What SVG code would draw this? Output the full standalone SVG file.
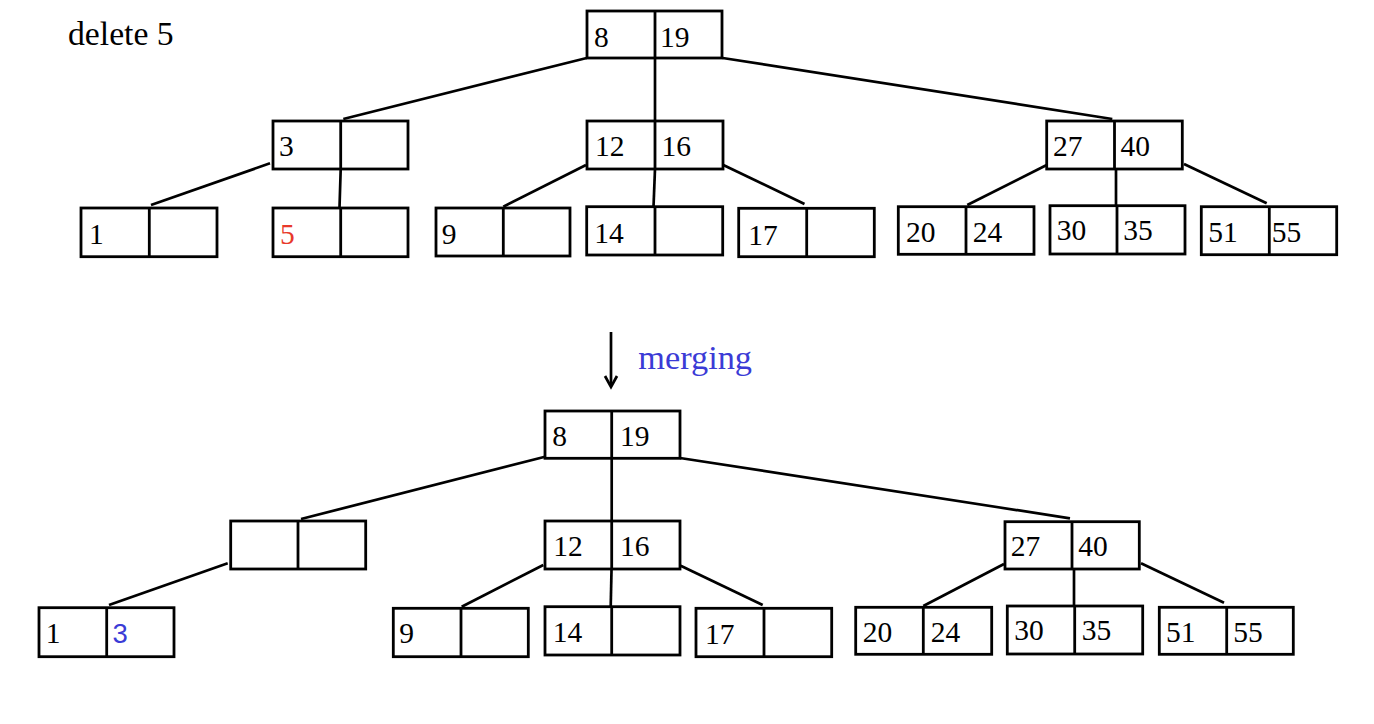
<svg xmlns="http://www.w3.org/2000/svg" width="1374" height="724" viewBox="0 0 1374 724">
<style>
.box{fill:#fff;stroke:#000;stroke-width:2.8}
.div{stroke:#000;stroke-width:2.8}
.edge{stroke:#000;stroke-width:2.7;fill:none}
text{font-family:"Liberation Serif","Times New Roman",serif;font-size:29.5px;fill:#000}
.big{font-size:33.7px}
.mg{font-size:34.3px}
.blue{fill:#3b3bd6}
.red{fill:#e8392b}
.sans{font-family:"Liberation Sans",Arial,sans-serif;font-size:27.5px}
</style>
<rect width="1374" height="724" fill="#fff"/>
<text class="big" x="68" y="45">delete 5</text>
<g id="connectors">
<line class="edge" x1="586.7" y1="58" x2="343.3" y2="119"/>
<line class="edge" x1="655" y1="58" x2="655" y2="121"/>
<line class="edge" x1="722.7" y1="58" x2="1112.3" y2="119"/>
<line class="edge" x1="270" y1="163.3" x2="151" y2="205"/>
<line class="edge" x1="340.7" y1="169" x2="339.5" y2="208"/>
<line class="edge" x1="586" y1="165" x2="503.3" y2="206.7"/>
<line class="edge" x1="655" y1="169" x2="653.5" y2="207"/>
<line class="edge" x1="723.3" y1="165" x2="804.5" y2="204"/>
<line class="edge" x1="1046.7" y1="165" x2="967.3" y2="205"/>
<line class="edge" x1="1116" y1="161" x2="1116" y2="205.7"/>
<line class="edge" x1="1184" y1="164" x2="1266.7" y2="203.3"/>
<line class="edge" x1="611" y1="332" x2="611" y2="386"/>
<polyline class="edge" points="605,376 611,387 617,376" stroke-width="2.2"/>
<line class="edge" x1="545" y1="456.7" x2="301" y2="519"/>
<line class="edge" x1="611.7" y1="458" x2="611.7" y2="521"/>
<line class="edge" x1="680" y1="458" x2="1070" y2="518.3"/>
<line class="edge" x1="227.7" y1="563.3" x2="109" y2="605"/>
<line class="edge" x1="543.3" y1="565" x2="461.7" y2="606.7"/>
<line class="edge" x1="611.7" y1="561.7" x2="610.7" y2="606.7"/>
<line class="edge" x1="680.7" y1="565.7" x2="762.7" y2="605"/>
<line class="edge" x1="1004" y1="564" x2="923.3" y2="606"/>
<line class="edge" x1="1074" y1="561" x2="1074" y2="606"/>
<line class="edge" x1="1141" y1="563.3" x2="1224" y2="602.7"/>
</g>
<text class="mg blue" x="638.3" y="369.3">merging</text>
<g id="t-root"><rect class="box" x="587" y="11" width="135" height="47"/><line class="div" x1="655" y1="11" x2="655" y2="58"/><text x="594" y="46.5">8</text><text x="660" y="46.5">19</text></g>
<g id="t-n3"><rect class="box" x="273" y="121" width="135" height="48"/><line class="div" x1="340.7" y1="121" x2="340.7" y2="169"/><text x="279" y="156">3</text></g>
<g id="t-n12"><rect class="box" x="587" y="121" width="136" height="48"/><line class="div" x1="655" y1="121" x2="655" y2="169"/><text x="595" y="156">12</text><text x="661.5" y="156">16</text></g>
<g id="t-n27"><rect class="box" x="1046.7" y="121" width="135.6" height="48"/><line class="div" x1="1114.5" y1="121" x2="1114.5" y2="169"/><text x="1053" y="155.7">27</text><text x="1120.5" y="155.7">40</text></g>
<g id="t-l1"><rect class="box" x="81" y="208" width="136" height="48.7"/><line class="div" x1="149.3" y1="208" x2="149.3" y2="256.7"/><text x="89" y="244.3">1</text></g>
<g id="t-l5"><rect class="box" x="273" y="208" width="135" height="48.7"/><line class="div" x1="340.7" y1="208" x2="340.7" y2="256.7"/><text class="red" x="280" y="244.3">5</text></g>
<g id="t-l9"><rect class="box" x="436" y="208" width="134" height="48"/><line class="div" x1="503.3" y1="208" x2="503.3" y2="256"/><text x="441.7" y="244">9</text></g>
<g id="t-l14"><rect class="box" x="586.7" y="206.7" width="136" height="48.3"/><line class="div" x1="655" y1="206.7" x2="655" y2="255"/><text x="594.3" y="243">14</text></g>
<g id="t-l17"><rect class="box" x="738.7" y="208.3" width="135.6" height="48.4"/><line class="div" x1="806.7" y1="208.3" x2="806.7" y2="256.7"/><text x="748.3" y="245">17</text></g>
<g id="t-l20"><rect class="box" x="898.3" y="206.7" width="135.7" height="47.6"/><line class="div" x1="966" y1="206.7" x2="966" y2="254.3"/><text x="906" y="241.7">20</text><text x="972.7" y="241.7">24</text></g>
<g id="t-l30"><rect class="box" x="1050" y="205.7" width="135" height="48.3"/><line class="div" x1="1117" y1="205.7" x2="1117" y2="254"/><text x="1056.7" y="240">30</text><text x="1123.3" y="240">35</text></g>
<g id="t-l51"><rect class="box" x="1201.3" y="206.7" width="135.4" height="48"/><line class="div" x1="1269.3" y1="206.7" x2="1269.3" y2="254.7"/><text x="1208.3" y="241.7">51</text><text x="1271.7" y="241.7">55</text></g>
<g id="b-root"><rect class="box" x="545" y="411" width="135" height="47.3"/><line class="div" x1="611.7" y1="411" x2="611.7" y2="458.3"/><text x="552.3" y="445.7">8</text><text x="620" y="445.7">19</text></g>
<g id="b-empty"><rect class="box" x="230.7" y="521" width="135" height="48"/><line class="div" x1="298" y1="521" x2="298" y2="569"/></g>
<g id="b-n12"><rect class="box" x="545" y="521" width="135" height="48"/><line class="div" x1="611.7" y1="521" x2="611.7" y2="569"/><text x="553.3" y="555.7">12</text><text x="620" y="555.7">16</text></g>
<g id="b-n27"><rect class="box" x="1005" y="521.7" width="134.3" height="47.3"/><line class="div" x1="1072" y1="521.7" x2="1072" y2="569"/><text x="1010.7" y="556">27</text><text x="1078.3" y="556">40</text></g>
<g id="b-l1"><rect class="box" x="39" y="607.7" width="135" height="49"/><line class="div" x1="106.7" y1="607.7" x2="106.7" y2="656.7"/><text x="45.7" y="643.3">1</text><text class="sans blue" x="112.5" y="643.3">3</text></g>
<g id="b-l9"><rect class="box" x="393.3" y="608.3" width="135" height="48.4"/><line class="div" x1="461" y1="608.3" x2="461" y2="656.7"/><text x="399.3" y="643.3">9</text></g>
<g id="b-l14"><rect class="box" x="545" y="606.7" width="135" height="48.3"/><line class="div" x1="611.7" y1="606.7" x2="611.7" y2="655"/><text x="552.7" y="641.7">14</text></g>
<g id="b-l17"><rect class="box" x="696" y="608.3" width="135.7" height="48.4"/><line class="div" x1="764" y1="608.3" x2="764" y2="656.7"/><text x="705" y="644.3">17</text></g>
<g id="b-l20"><rect class="box" x="855.7" y="607.3" width="136" height="47"/><line class="div" x1="923.3" y1="607.3" x2="923.3" y2="654.3"/><text x="862.7" y="641.7">20</text><text x="930.7" y="641.7">24</text></g>
<g id="b-l30"><rect class="box" x="1007.3" y="606" width="135.4" height="48"/><line class="div" x1="1074.7" y1="606" x2="1074.7" y2="654"/><text x="1014.3" y="640">30</text><text x="1081.7" y="640">35</text></g>
<g id="b-l51"><rect class="box" x="1159.3" y="607.3" width="134" height="47"/><line class="div" x1="1226.7" y1="607.3" x2="1226.7" y2="654.3"/><text x="1166" y="641.7">51</text><text x="1233.3" y="641.7">55</text></g>
</svg>
